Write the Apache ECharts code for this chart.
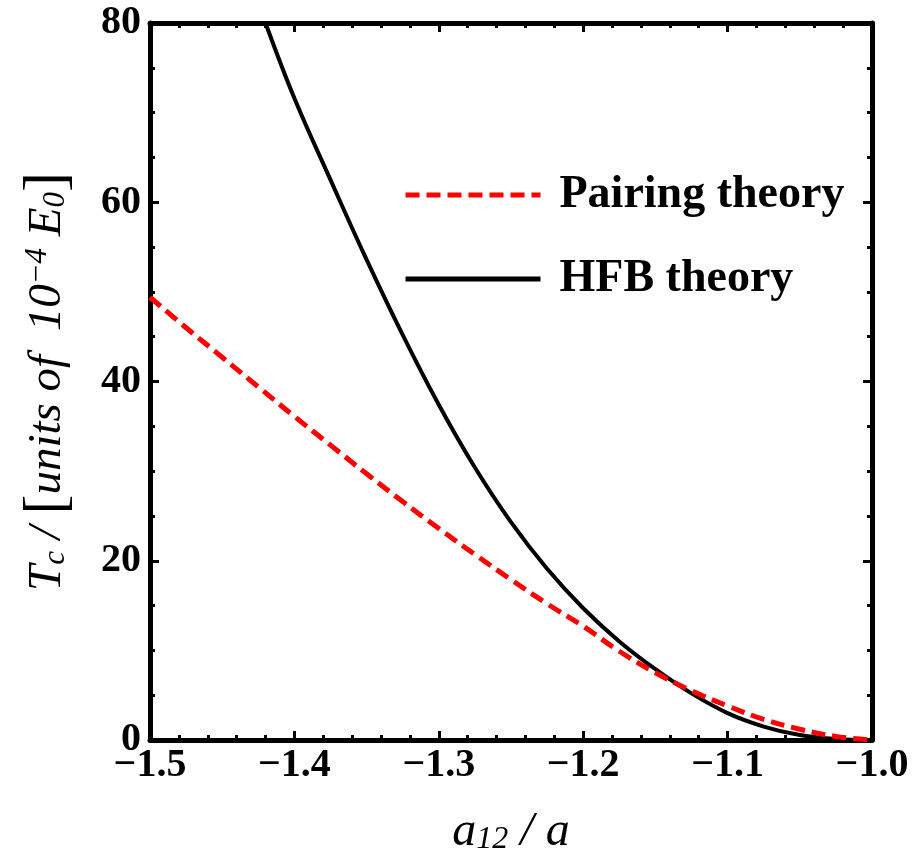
<!DOCTYPE html>
<html>
<head>
<meta charset="utf-8">
<script src="https://cdn.jsdelivr.net/npm/echarts@6/dist/echarts.min.js"></script>
<style>
html,body{margin:0;padding:0;background:#fff;}
#chart{width:917px;height:861px;}
</style>
</head>
<body>
<div id="chart"></div>
<script>
// Data
var seriesNames = ['Pairing theory', 'HFB theory'];
var pairX = [-1.5, -1.475, -1.45, -1.425, -1.4, -1.375, -1.35, -1.325, -1.3, -1.275, -1.25, -1.225, -1.2, -1.175, -1.15, -1.125, -1.1, -1.075, -1.05, -1.025, -1.0];
var pairY = [49.4, 46.0, 42.7, 39.4, 36.1, 32.9, 29.7, 26.6, 23.6, 20.7, 17.9, 15.2, 12.7, 9.9, 7.5, 5.5, 3.8, 2.3, 1.2, 0.4, 0];
var hfbX = [-1.42, -1.4, -1.375, -1.35, -1.325, -1.3, -1.275, -1.25, -1.225, -1.2, -1.175, -1.15, -1.125, -1.1, -1.075, -1.05, -1.025, -1.0];
var hfbY = [80, 71.6, 62.5, 53.6, 45.2, 37.4, 30.4, 24.3, 19.1, 14.7, 11.0, 7.9, 5.2, 3.0, 1.5, 0.55, 0.1, 0];
var xTicks = {min: -1.5, max: -1.0, interval: 0.1};
var yTicks = {min: 0, max: 80, interval: 20};

function zip(xs, ys) { return xs.map(function (x, i) { return [x, ys[i]]; }); }

var chart = echarts.init(document.getElementById('chart'), null, {renderer: 'canvas'});
var serif = '"Liberation Serif", "Times New Roman", serif';
var axisLineStyle = {color: '#000', width: 5};
var tickStyle = {color: '#000', width: 3};
var labelStyle = {color: '#000', fontFamily: serif, fontWeight: 'bold', fontSize: 40};

function xFmt(v) { return (v < 0 ? '\u2212' : '') + Math.abs(v).toFixed(1); }

var option = {
  backgroundColor: '#fff',
  animation: false,
  grid: {left: 150, right: 45, top: 23, bottom: 117, containLabel: false},
  legend: {
    orient: 'vertical',
    left: 398,
    top: 165,
    itemWidth: 135,
    itemHeight: 14,
    itemGap: 34,
    selectedMode: false,
    data: seriesNames,
    itemStyle: {opacity: 0},
    lineStyle: {width: 5},
    textStyle: {color: '#000', fontFamily: serif, fontWeight: 'bold', fontSize: 46, lineHeight: 50, padding: [0, 0, 0, 14]}
  },
  xAxis: [{
    type: 'value', position: 'bottom',
    min: xTicks.min, max: xTicks.max, interval: xTicks.interval,
    axisLine: {show: true, onZero: false, lineStyle: axisLineStyle},
    axisTick: {show: true, inside: true, length: 9, lineStyle: tickStyle},
    minorTick: {show: true, splitNumber: 5, length: 5, lineStyle: tickStyle},
    splitLine: {show: false},
    axisLabel: Object.assign({margin: 6, formatter: xFmt}, labelStyle),
    name: '{i|a}{sub|12}{n| / }{i|a}',
    nameLocation: 'middle',
    nameGap: 68,
    nameTextStyle: {
      color: '#000',
      rich: {
        i: {fontFamily: serif, fontStyle: 'italic', fontSize: 48, color: '#000'},
        sub: {fontFamily: serif, fontStyle: 'italic', fontSize: 32, color: '#000', padding: [16, 0, 0, 0]},
        n: {fontFamily: serif, fontStyle: 'italic', fontSize: 48, color: '#000'}
      }
    }
  }, {
    type: 'value', position: 'top',
    min: xTicks.min, max: xTicks.max, interval: xTicks.interval,
    axisLine: {show: true, onZero: false, lineStyle: axisLineStyle},
    axisTick: {show: true, inside: true, length: 9, lineStyle: tickStyle},
    minorTick: {show: true, splitNumber: 5, length: 5, lineStyle: tickStyle},
    splitLine: {show: false},
    axisLabel: {show: false}
  }],
  yAxis: [{
    type: 'value', position: 'left',
    min: yTicks.min, max: yTicks.max, interval: yTicks.interval,
    axisLine: {show: true, onZero: false, lineStyle: axisLineStyle},
    axisTick: {show: true, inside: true, length: 9, lineStyle: tickStyle},
    minorTick: {show: true, splitNumber: 4, length: 5, lineStyle: tickStyle},
    splitLine: {show: false},
    axisLabel: Object.assign({margin: 9}, labelStyle),
    name: '{i|T}{sub|c}{n| / }{br|[}{i|units of  10}{sup|\u22124}{i| E}{sub|0}{br|]}',
    nameLocation: 'middle',
    nameRotate: 90,
    nameGap: 72,
    nameTextStyle: {
      color: '#000',
      rich: {
        i: {fontFamily: serif, fontStyle: 'italic', fontSize: 47, color: '#000'},
        n: {fontFamily: serif, fontStyle: 'italic', fontSize: 47, color: '#000'},
        sub: {fontFamily: serif, fontStyle: 'italic', fontSize: 31, color: '#000', padding: [16, 0, 0, 0]},
        sup: {fontFamily: serif, fontStyle: 'italic', fontSize: 31, color: '#000', padding: [0, 0, 20, 0]},
        br: {fontFamily: serif, fontSize: 60, fontWeight: 'normal', color: '#000'}
      }
    }
  }, {
    type: 'value', position: 'right',
    min: yTicks.min, max: yTicks.max, interval: yTicks.interval,
    axisLine: {show: true, onZero: false, lineStyle: axisLineStyle},
    axisTick: {show: true, inside: true, length: 9, lineStyle: tickStyle},
    minorTick: {show: true, splitNumber: 4, length: 5, lineStyle: tickStyle},
    splitLine: {show: false},
    axisLabel: {show: false}
  }],
  series: [{
    name: seriesNames[0],
    type: 'line',
    xAxisIndex: 0, yAxisIndex: 0,
    data: zip(pairX, pairY),
    smooth: 0.4,
    symbol: 'none',
    lineStyle: {color: '#ff0000', width: 5, type: [14, 7]},
    itemStyle: {color: '#ff0000'},
    z: 3
  }, {
    name: seriesNames[1],
    type: 'line',
    xAxisIndex: 0, yAxisIndex: 0,
    data: zip(hfbX, hfbY),
    smooth: 0.4,
    symbol: 'none',
    lineStyle: {color: '#000', width: 4},
    itemStyle: {color: '#000'},
    z: 2
  }]
};
chart.setOption(option);
</script>
</body>
</html>
